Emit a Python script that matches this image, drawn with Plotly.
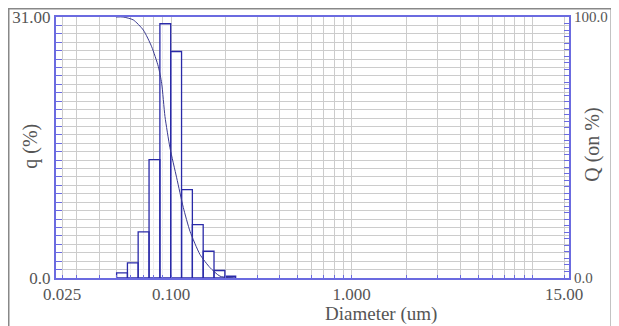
import plotly.graph_objects as go

# ---- data ----
bin_lower = [0.0500, 0.0574, 0.0658, 0.0756, 0.0868, 0.0996, 0.1144, 0.1313, 0.1507, 0.1730, 0.1986]
bin_upper = [0.0574, 0.0658, 0.0756, 0.0868, 0.0996, 0.1144, 0.1313, 0.1507, 0.1730, 0.1986, 0.2280]
q_percent = [0.62, 1.80, 5.48, 14.05, 30.2, 26.9, 10.5, 6.34, 3.18, 0.89, 0.21]

curve_d = [0.0496, 0.0543, 0.0618, 0.0703, 0.0782, 0.0851, 0.0888, 0.0926, 0.0987,
           0.1075, 0.1170, 0.1274, 0.1447, 0.1643, 0.1866, 0.2203]
curve_Q = [100.0, 100.0, 98.9, 95.0, 88.6, 81.0, 74.6, 61.9, 49.9,
           38.4, 27.0, 17.9, 9.0, 4.0, 0.7, 0.0]

x_grid = [0.025, 0.03, 0.04, 0.05, 0.06, 0.07, 0.08, 0.09,
          0.1, 0.2, 0.3, 0.4, 0.5, 0.6, 0.7, 0.8, 0.9,
          1, 2, 3, 4, 5, 6, 7, 8, 9, 10, 15]
x_labels = {0.025: "0.025", 0.1: "0.100", 1: "1.000", 15: "15.00"}
q_max = 31
Q_max = 100

FONT = "Liberation Serif"
TXT = "#555555"
AXB = "#6b6be0"

# figure geometry (page has an 8px body margin)
W, H = 604, 318
L, R, T, B = 48, 43, 9, 47.5
PW, PH = W - L - R, H - T - B


def px(x):
    return (x - L) / PW


def py(y):
    return (H - B - y) / PH


# bar outlines as polygons
bx, by = [], []
for lo, hi, h in zip(bin_lower, bin_upper, q_percent):
    bx += [lo, lo, hi, hi, lo, None]
    by += [0, h, h, 0, 0, None]

fig = go.Figure()
fig.add_trace(go.Scatter(x=bx, y=by, mode="lines", fill="toself",
                         fillcolor="rgba(255,255,255,0.65)",
                         line=dict(color="#2a2aa8", width=1.3),
                         hoverinfo="skip", showlegend=False))
fig.add_trace(go.Scatter(x=curve_d, y=curve_Q, mode="lines", yaxis="y2",
                         line=dict(color="#3a3a90", width=1, shape="spline", smoothing=0.6),
                         showlegend=False))

fig.update_layout(
    width=W, height=H,
    margin=dict(l=L, r=R, t=T, b=B, autoexpand=False),
    paper_bgcolor="white", plot_bgcolor="white",
    font=dict(family=FONT, size=17, color=TXT),
    xaxis=dict(type="log", range=[-1.6364, 1.2026],
               tickmode="array", tickvals=x_grid,
               ticktext=[x_labels.get(v, "") for v in x_grid],
               showgrid=True, gridcolor="#cccccc", gridwidth=1,
               showline=True, linecolor=AXB, linewidth=2, mirror=True,
               ticks="inside", ticklen=3, tickcolor=AXB,
               tickfont=dict(size=17), ticklabeloverflow="allow", zeroline=False),
    yaxis=dict(range=[0, q_max], tickmode="array",
               tickvals=list(range(0, q_max + 1)),
               ticktext=["0.0"] + [""] * (q_max - 1) + ["31.00"],
               showgrid=True, gridcolor="#cccccc", gridwidth=1,
               showline=True, linecolor=AXB, linewidth=2,
               ticks="inside", ticklen=6, tickcolor=AXB,
               tickfont=dict(size=17), ticklabeloverflow="allow", zeroline=False),
    yaxis2=dict(range=[0, Q_max], overlaying="y", side="right",
                tickmode="array", tickvals=[v * 2.5 for v in range(0, 41)],
                ticktext=["0.0"] + [""] * 39 + ["100.0"],
                showgrid=False, showline=True, linecolor=AXB, linewidth=2,
                ticks="inside", ticklen=5, tickcolor=AXB,
                tickfont=dict(size=15), ticklabeloverflow="allow", zeroline=False),
)

# outer frame
fig.add_shape(type="rect", xref="paper", yref="paper",
              x0=px(0.75), x1=px(W - 0.75),
              y0=py(H + 20), y1=py(0.75),
              line=dict(color="#888888", width=1.5), fillcolor="rgba(0,0,0,0)",
              layer="below")

fig.add_annotation(text="q (%)", xref="paper", yref="paper",
                   x=px(31 - 8), y=py(147 - 8), textangle=-90,
                   xanchor="center", yanchor="middle",
                   showarrow=False, font=dict(family=FONT, size=20, color=TXT))
fig.add_annotation(text="Q (on %)", xref="paper", yref="paper",
                   x=px(593 - 8), y=py(145 - 8), textangle=-90,
                   xanchor="center", yanchor="middle",
                   showarrow=False, font=dict(family=FONT, size=20, color=TXT))
fig.add_annotation(text="Diameter (um)", xref="paper", yref="paper",
                   x=px(381 - 8), y=py(315 - 8),
                   xanchor="center", yanchor="middle",
                   showarrow=False, font=dict(family=FONT, size=19, color=TXT))

fig.write_html("out.html")
